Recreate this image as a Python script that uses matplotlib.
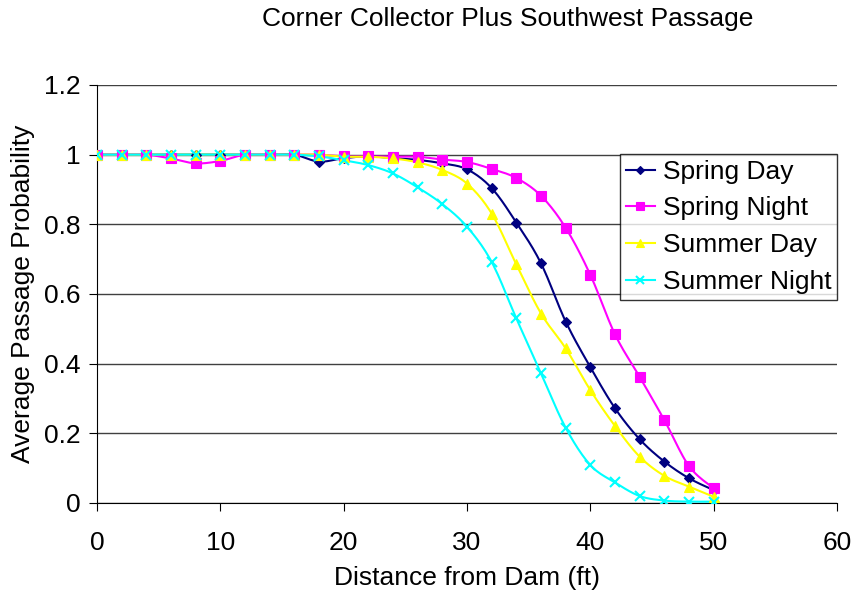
import numpy as np
import matplotlib
matplotlib.use("Agg")
import matplotlib.pyplot as plt

plt.rcParams['font.family'] = ['Liberation Sans', 'DejaVu Sans']

distance = [0, 2, 4, 6, 8, 10, 12, 14, 16, 18, 20, 22, 24,
            26, 28, 30, 32, 34, 36, 38, 40, 42, 44, 46, 48, 50]

spring_day = [1.0, 1.0, 1.0, 1.0, 1.0, 1.0, 1.0, 1.0, 1.0, 0.98, 0.99, 0.995, 0.99,
              0.985, 0.975, 0.958, 0.904, 0.805, 0.688, 0.521, 0.39, 0.272, 0.183, 0.119, 0.071, 0.037]
spring_night = [1.0, 1.0, 1.0, 0.989, 0.975, 0.982, 1.0, 1.0, 1.0, 1.0, 0.995, 0.995, 0.994,
                0.994, 0.986, 0.979, 0.959, 0.933, 0.882, 0.79, 0.655, 0.484, 0.362, 0.238, 0.106, 0.042]
summer_day = [1.0, 1.0, 1.0, 1.0, 1.0, 1.0, 1.0, 1.0, 1.0, 1.0, 0.994, 0.994, 0.989,
              0.978, 0.956, 0.917, 0.831, 0.685, 0.544, 0.444, 0.324, 0.221, 0.133, 0.078, 0.047, 0.018]
summer_night = [1.0, 1.0, 1.0, 1.0, 1.0, 1.0, 1.0, 1.0, 1.0, 0.995, 0.984, 0.970, 0.946,
                0.906, 0.858, 0.793, 0.692, 0.530, 0.372, 0.216, 0.109, 0.059, 0.020, 0.007, 0.004, 0.004]

series = [
    ("Spring Day", spring_day, "#000080", "D", 5),
    ("Spring Night", spring_night, "#FF00FF", "s", 7),
    ("Summer Day", summer_day, "#FFFF00", "^", 7),
    ("Summer Night", summer_night, "#00FFFF", "x", 7),
]


def smooth(x, y, steps=12):
    # Catmull-Rom style smoothing like Excel's "smoothed line"
    x = np.asarray(x, float)
    y = np.asarray(y, float)
    px = np.concatenate([[x[0]], x, [x[-1]]])
    py = np.concatenate([[y[0]], y, [y[-1]]])
    out_x, out_y = [], []
    t = np.linspace(0, 1, steps, endpoint=False)
    for i in range(1, len(px) - 2):
        p0, p1, p2, p3 = (np.array([px[j], py[j]]) for j in range(i - 1, i + 3))
        c1 = p1 + (p2 - p0) / 6.0
        c2 = p2 - (p3 - p1) / 6.0
        for tt in t:
            pt = ((1 - tt) ** 3) * p1 + 3 * ((1 - tt) ** 2) * tt * c1 + 3 * (1 - tt) * tt ** 2 * c2 + tt ** 3 * p2
            out_x.append(pt[0])
            out_y.append(pt[1])
    out_x.append(x[-1])
    out_y.append(y[-1])
    return out_x, out_y


fig = plt.figure(figsize=(8.55, 5.94), dpi=100)
ax = fig.add_axes([97 / 855, 1 - 503 / 594, 740 / 855, 418 / 594])

handles = []
for name, vals, color, marker, ms in series:
    sx, sy = smooth(distance, vals)
    ax.plot(sx, sy, color=color, lw=1.5, zorder=3)
    ax.plot(distance, vals, linestyle="none", marker=marker, color=color,
            markersize=ms, markeredgewidth=1.5 if marker == "x" else 0.8, zorder=4)
    h, = ax.plot([], [], color=color, marker=marker, markersize=ms * 0.8, lw=1.5,
                 markeredgewidth=1.5 if marker == "x" else 0.8)
    handles.append(h)

ax.set_xlim(0, 60)
ax.set_ylim(0, 1.2)
ax.set_xticks(np.arange(0, 61, 10))
ax.set_yticks(np.arange(0, 1.21, 0.2))
ax.set_yticklabels(["0", "0.2", "0.4", "0.6", "0.8", "1", "1.2"])
ax.yaxis.grid(True, color="#404040", lw=1)
ax.set_axisbelow(True)
for side in ("top", "right"):
    ax.spines[side].set_visible(False)
ax.spines["left"].set_color("black")
ax.spines["bottom"].set_color("black")
ax.tick_params(labelsize=19, direction="out", length=6, color="black")
ax.tick_params(axis="x", pad=14)
ax.tick_params(axis="y", pad=6)

ax.set_xlabel("Distance from Dam (ft)", fontsize=19, labelpad=8)
ax.set_ylabel("Average Passage Probability", fontsize=19, labelpad=6)

fig.text(508 / 855, 1 - 19 / 594, "Corner Collector Plus Southwest Passage",
         ha="center", va="center", fontsize=19)

leg = fig.legend(handles, [s[0] for s in series], loc="upper left",
                 bbox_to_anchor=(620 / 855, 1 - 154 / 594), fontsize=19,
                 frameon=True, fancybox=False, edgecolor="black",
                 handlelength=1.1, handletextpad=0.3, labelspacing=0.48,
                 borderpad=0.22, borderaxespad=0)
leg.get_frame().set_linewidth(1.0)

fig.savefig("out.png", dpi=100)
